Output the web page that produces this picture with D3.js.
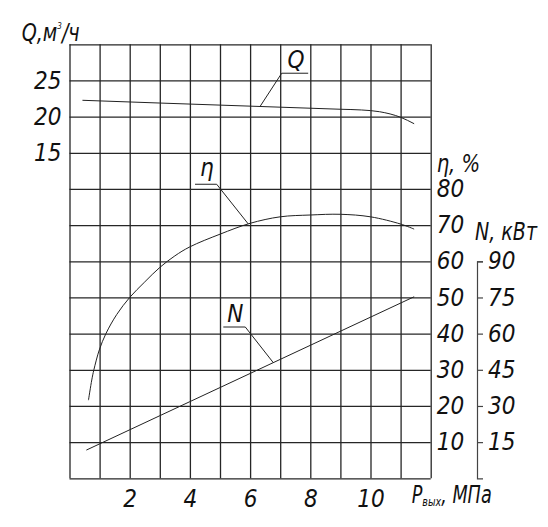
<!DOCTYPE html>
<html>
<head>
<meta charset="utf-8">
<script src="https://cdn.jsdelivr.net/npm/d3@7"></script>
<style>
body{margin:0;background:#fff;}
svg text{font-family:"Liberation Sans Narrow","DejaVu Sans Condensed","Liberation Sans",sans-serif;font-style:italic;fill:#111;}
</style>
</head>
<body>
<svg id="chart" width="548" height="527"></svg>
<script>
'use strict';

// tick labels
const pressureTicks = [2, 4, 6, 8, 10];
const flowTicks = [15, 20, 25];
const effTicks = [10, 20, 30, 40, 50, 60, 70, 80];
const powerTicks = [15, 30, 45, 60, 75, 90];

// Q (m3/h) vs outlet pressure (MPa)
const flowP = [0.43, 3, 6, 9, 9.7, 10.3, 11, 11.45];
const flowQ = [22.26, 21.88, 21.45, 21.02, 20.92, 20.68, 19.91, 19.02];

// efficiency (%)
const effP = [0.63, 0.74, 0.81, 0.99, 1.21, 1.57, 2, 2.5, 3, 3.5, 4, 5, 6, 7, 8, 9, 10, 11, 11.45];
const effEta = [21.6, 27.2, 30, 35.5, 40, 45.3, 50, 54.3, 58.3, 61.5, 64.0, 67.5, 70.5, 72.3, 72.8, 73.0, 72.3, 70.3, 68.9];

// power (kW)
const powerP = [0.56, 4, 11.45];
const powerN = [11.7, 31.8, 75.3];

const svg = d3.select('#chart');
const plot = {left: 69.5, right: 430.7, top: 44.3, bottom: 478.3};

const x = d3.scaleLinear().domain([0, 12]).range([plot.left, plot.right]);
const yEta = d3.scaleLinear().domain([0, 120]).range([plot.bottom, plot.top]);
const yQ = d3.scaleLinear().domain([-30, 30]).range([plot.bottom, plot.top]);
const yN = d3.scaleLinear().domain([0, 180]).range([plot.bottom, plot.top]);

/**
 * grid
 */
const grid = svg.append('g').attr('class', 'grid');
grid.append('g')
	.attr('transform', 'translate(0,' + plot.bottom + ')')
	.call(d3.axisBottom(x).tickValues(d3.range(0, 13)).tickSize(-(plot.bottom - plot.top)).tickFormat(''));
grid.append('g')
	.attr('transform', 'translate(' + plot.left + ',0)')
	.call(d3.axisLeft(yEta).tickValues(d3.range(0, 121, 10)).tickSize(-(plot.right - plot.left)).tickFormat(''));
grid.selectAll('.domain').remove();
grid.selectAll('.tick line')
	.attr('stroke', '#262626')
	.attr('stroke-width', 1.3);

/**
 * axes
 */
function styleText(g, size){
	g.select('.domain').remove();
	g.selectAll('.tick text')
		.attr('font-size', size)
		.attr('font-family', null)
		.attr('fill', '#111');
}

svg.append('g')
	.attr('transform', 'translate(0,' + plot.bottom + ')')
	.call(d3.axisBottom(x).tickValues(pressureTicks).tickSize(0).tickPadding(12))
	.call(g => styleText(g, 24));

svg.append('g')
	.attr('transform', 'translate(' + plot.left + ',0)')
	.call(d3.axisLeft(yQ).tickValues(flowTicks).tickSize(0).tickPadding(8))
	.call(g => styleText(g, 24));

svg.append('g')
	.attr('transform', 'translate(' + plot.right + ',0)')
	.call(d3.axisRight(yEta).tickValues(effTicks).tickSize(0).tickPadding(6))
	.call(g => styleText(g, 24));

const nAxisScale = d3.scaleLinear().domain([0, 90]).range([yN(0), yN(90)]);
const nAxis = svg.append('g')
	.attr('transform', 'translate(477,0)')
	.call(d3.axisRight(nAxisScale).tickValues(powerTicks).tickSize(6).tickSizeOuter(6).tickPadding(5));
nAxis.selectAll('.tick text').attr('font-size', 24).attr('font-family', null).attr('fill', '#111');
nAxis.selectAll('path, line').attr('stroke', '#444').attr('stroke-width', 1.2);

/**
 * curves
 */
const curves = svg.append('g').attr('fill', 'none').attr('stroke', '#222').attr('stroke-width', 1);

curves.append('path')
	.datum(d3.zip(flowP, flowQ))
	.attr('d', d3.line().x(d => x(d[0])).y(d => yQ(d[1])).curve(d3.curveMonotoneX));

curves.append('path')
	.datum(d3.zip(effP, effEta))
	.attr('d', d3.line().x(d => x(d[0])).y(d => yEta(d[1])).curve(d3.curveCatmullRom.alpha(0.5)));

curves.append('path')
	.datum(d3.zip(powerP, powerN))
	.attr('d', d3.line().x(d => x(d[0])).y(d => yN(d[1])));

/**
 * leader labels
 */
function valueAt(ps, vs, p){
	const i = Math.max(1, Math.min(ps.length - 1, d3.bisectRight(ps, p)));
	const t = (p - ps[i - 1]) / (ps[i] - ps[i - 1]);
	return vs[i - 1] + t * (vs[i] - vs[i - 1]);
}

const leaders = [
	{ text: 'Q', y: yQ, from: 7.05, to: 7.93, level: 26, knee: 'from', tip: 6.33, ps: flowP, vs: flowQ },
	{ text: 'η', y: yEta, from: 4.17, to: 4.89, level: 81.3, knee: 'to', tip: 5.94, ps: effP, vs: effEta },
	{ text: 'N', y: yN, from: 5.11, to: 5.84, level: 62.75, knee: 'to', tip: 6.77, ps: powerP, vs: powerN }
];

const lg = svg.append('g');
leaders.forEach(l => {
	const ly = l.y(l.level);
	const kx = x(l[l.knee]);
	lg.append('path')
		.attr('fill', 'none')
		.attr('stroke', '#222')
		.attr('stroke-width', 1)
		.attr('d', 'M' + x(l.from) + ',' + ly + 'H' + x(l.to) +
			'M' + kx + ',' + ly + 'L' + x(l.tip) + ',' + l.y(valueAt(l.ps, l.vs, l.tip)));
	lg.append('text')
		.attr('x', (x(l.from) + x(l.to)) / 2 + 1)
		.attr('y', ly - (l.text === 'η' ? 8 : 5.5))
		.attr('text-anchor', 'middle')
		.attr('font-size', 24)
		.text(l.text);
});

/**
 * axis titles
 */
const qt = svg.append('text').attr('x', 21.7).attr('y', 41).attr('font-size', 24)
	.attr('textLength', 58).attr('lengthAdjust', 'spacingAndGlyphs');
qt.append('tspan').text('Q,м');
qt.append('tspan').attr('font-size', 9).attr('dy', -12).text('3');
qt.append('tspan').attr('dy', 12).text('/ч');

svg.append('text').attr('x', 436.7).attr('y', 171.5).attr('font-size', 24)
	.attr('textLength', 43.5).attr('lengthAdjust', 'spacingAndGlyphs').text('η, %');
svg.append('text').attr('x', 475).attr('y', 240).attr('font-size', 24)
	.attr('textLength', 62).attr('lengthAdjust', 'spacingAndGlyphs').text('N, кВт');

const pt = svg.append('text').attr('x', 411.7).attr('y', 503).attr('font-size', 24)
	.attr('textLength', 80).attr('lengthAdjust', 'spacingAndGlyphs');
pt.append('tspan').text('P');
pt.append('tspan').attr('font-size', 13).attr('dy', 3).text('вых');
pt.append('tspan').attr('dy', -3).text(', МПа');
</script>
</body>
</html>
